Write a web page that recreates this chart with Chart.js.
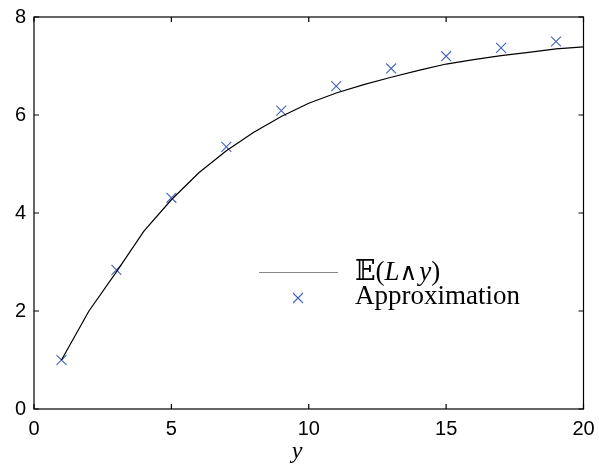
<!DOCTYPE html>
<html>
<head>
<meta charset="utf-8">
<script src="https://cdn.jsdelivr.net/npm/chart.js@4.4.1/dist/chart.umd.min.js"></script>
<style>
  html, body { margin: 0; padding: 0; background: #fff; }
  #wrap { width: 599px; height: 470px; }
</style>
</head>
<body>
<div id="wrap"><canvas id="chart" width="599" height="470"></canvas></div>
<script>
/* ---- data ---- */
const curveX = [1, 2, 3, 4, 5, 6, 7, 8, 9, 10, 11, 12, 13, 14, 15, 16, 17, 18, 19, 20];
const curveY = [1.0, 2.0, 2.8, 3.63, 4.27, 4.82, 5.27, 5.65, 5.97, 6.24, 6.45, 6.62, 6.77, 6.91, 7.04, 7.13, 7.21, 7.28, 7.35, 7.39];
const approxX = [1, 3, 5, 7, 9, 11, 13, 15, 17, 19];
const approxY = [1.0, 2.84, 4.31, 5.35, 6.09, 6.59, 6.95, 7.2, 7.37, 7.5];
const xTicks = [0, 5, 10, 15, 20];
const yTicks = [0, 2, 4, 6, 8];

const BLUE = '#4262bd';
const SERIF = 'Liberation Serif, DejaVu Serif, serif';
const TICK_FONT = { family: 'Liberation Sans, Arial, sans-serif', size: 20 };

// box round the plot + inward ticks on all four sides (matlab style)
const boxPlugin = {
    id: 'box',
    afterDatasetsDraw(chart) {
        const { ctx, chartArea: a, scales } = chart;
        ctx.save();
        ctx.strokeStyle = '#000';
        ctx.lineWidth = 1.2;
        ctx.strokeRect(a.left, a.top, a.right - a.left, a.bottom - a.top);
        ctx.beginPath();
        xTicks.forEach(v => {
            const px = scales.x.getPixelForValue(v);
            ctx.moveTo(px, a.bottom); ctx.lineTo(px, a.bottom - 5);
            ctx.moveTo(px, a.top); ctx.lineTo(px, a.top + 5);
        });
        yTicks.forEach(v => {
            const py = scales.y.getPixelForValue(v);
            ctx.moveTo(a.left, py); ctx.lineTo(a.left + 5, py);
            ctx.moveTo(a.right, py); ctx.lineTo(a.right - 5, py);
        });
        ctx.stroke();

        // x axis title, italic y
        ctx.fillStyle = '#000';
        ctx.font = 'italic 24px ' + SERIF;
        ctx.textAlign = 'center';
        ctx.fillText('y', 297, 458);
        ctx.restore();
    }
};

// legend drawn inside the plot
const legendPlugin = {
    id: 'mathLegend',
    afterDraw(chart) {
        const { ctx } = chart;
        ctx.save();
        // line sample
        ctx.strokeStyle = '#888';
        ctx.lineWidth = 1;
        ctx.beginPath();
        ctx.moveTo(259, 272.5); ctx.lineTo(338, 272.5);
        ctx.stroke();
        // marker sample
        ctx.strokeStyle = BLUE;
        ctx.lineWidth = 1.1;
        ctx.beginPath();
        ctx.moveTo(293, 293); ctx.lineTo(303, 303);
        ctx.moveTo(303, 293); ctx.lineTo(293, 303);
        ctx.stroke();

        ctx.fillStyle = '#000';
        ctx.textBaseline = 'alphabetic';
        // fit "Approximation" to its width in the picture
        ctx.font = '20px ' + SERIF;
        const size = 20 * 165 / ctx.measureText('Approximation').width;
        ctx.font = size + 'px ' + SERIF;
        ctx.fillText('Approximation', 355, 304);

        // E(L ∧ y) in pieces so L and y can be italic
        const parts = [
            ['𝔼(', '', SERIF], ['L', 'italic ', SERIF], ['∧', '', 'DejaVu Sans, sans-serif'],
            ['y', 'italic ', SERIF], [')', '', SERIF]
        ];
        let x = 355;
        parts.forEach(([t, st, fam]) => {
            const sz = t === '∧' ? size * 0.9 : size;
            ctx.font = st + sz + 'px ' + fam;
            ctx.fillText(t, x, 280);
            x += ctx.measureText(t).width + (t === '∧' ? 2 : 0);
        });
        ctx.restore();
    }
};

const ctx = document.getElementById('chart').getContext('2d');
new Chart(ctx, {
    type: 'scatter',
    data: {
        datasets: [
            {
                label: 'E(L∧y)',
                data: curveX.map((x, i) => ({ x, y: curveY[i] })),
                showLine: true,
                borderColor: '#000',
                borderWidth: 1.2,
                pointRadius: 0,
                tension: 0
            },
            {
                label: 'Approximation',
                data: approxX.map((x, i) => ({ x, y: approxY[i] })),
                showLine: false,
                pointStyle: 'crossRot',
                pointRadius: 7,
                borderColor: BLUE,
                borderWidth: 1.1,
                backgroundColor: BLUE
            }
        ]
    },
    options: {
        responsive: false,
        animation: false,
        layout: { padding: { top: 17, right: 15.5, left: 0, bottom: 0 } },
        plugins: { legend: { display: false }, tooltip: { enabled: false } },
        scales: {
            x: {
                type: 'linear', min: 0, max: 20,
                afterBuildTicks: s => { s.ticks = xTicks.map(v => ({ value: v })); },
                afterFit: s => { s.height = 61; s.paddingLeft = 0; s.paddingRight = 0; },
                grid: { display: false, drawTicks: false },
                border: { display: false },
                ticks: { color: '#000', font: TICK_FONT, padding: 8, maxRotation: 0 }
            },
            y: {
                type: 'linear', min: 0, max: 8,
                afterBuildTicks: s => { s.ticks = yTicks.map(v => ({ value: v })); },
                afterFit: s => { s.width = 34; s.paddingTop = 0; s.paddingBottom = 0; },
                grid: { display: false, drawTicks: false },
                border: { display: false },
                ticks: { color: '#000', font: TICK_FONT, padding: 8 }
            }
        }
    },
    plugins: [boxPlugin, legendPlugin]
});
</script>
</body>
</html>
